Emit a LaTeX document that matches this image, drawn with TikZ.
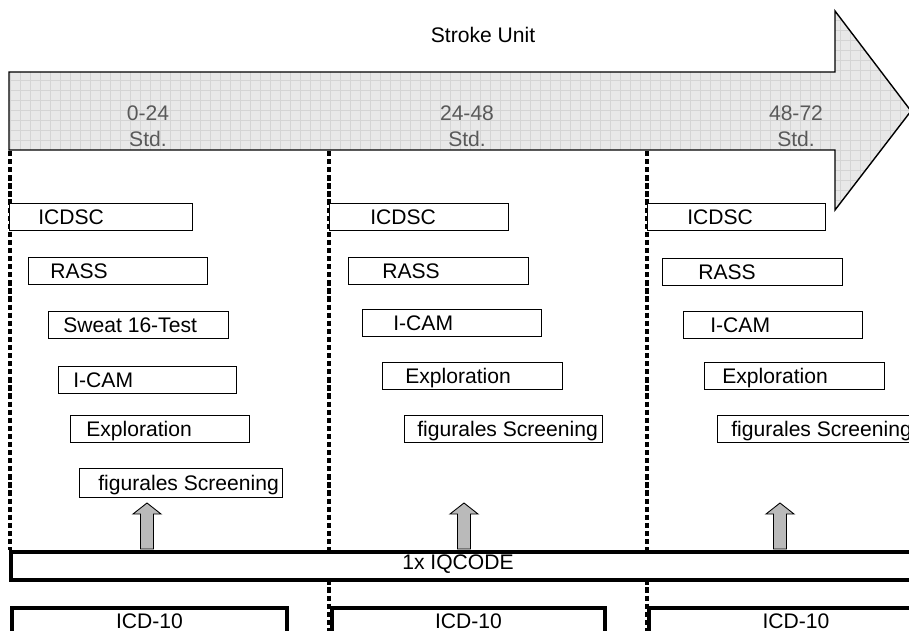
\documentclass[tikz,border=0pt]{standalone}
\usepackage{fontspec}
\setmainfont{Liberation Sans}
\usetikzlibrary{positioning}

\begin{document}
\begin{tikzpicture}[x=0.02cm, y=-0.02cm,
		font=\fontsize{12}{12.5}\selectfont,
		bigarrow/.style={
			draw,
			line width=0.8pt,
			fill=black!9,
			path picture={\draw[black!17, line width=0.3pt, step=0.2cm] (path picture bounding box.south west) grid (path picture bounding box.north east);}
		},
		divider/.style={line width=1.9pt, dash pattern=on 3pt off 1.6pt},
		testbox/.style={draw, fill=white, line width=0.7pt, minimum height=0.54cm, inner sep=0pt, anchor=north west},
		lbl/.style={anchor=west, inner sep=0pt, text height=8.6pt, text depth=0pt},
		period/.style={align=center, text=black!65, font=\fontsize{12}{14.8}\selectfont},
		uparrow/.style={draw, fill=black!27, line width=0.5pt},
		iqbox/.style={draw, fill=white, line width=2.3pt, minimum width=18.8cm, minimum height=0.56cm, inner sep=0pt, anchor=north west},
		icdbox/.style={draw, fill=white, line width=2.3pt, anchor=north west, inner xsep=0pt, inner ysep=0.11cm, text height=8.6pt, text depth=0.8cm}]
		\useasboundingbox (0,0) rectangle (909,631);
		\clip (0,0) rectangle (909,631);
		
		\draw[bigarrow] (9,72) -- (835,72) -- (835,11) -- (911,111) -- (835,210) -- (835,150) -- (9,150) -- cycle;
		\node (title) at (483,35) {Stroke Unit};
		\node[period] (p1) at (148,126) {0-24\\Std.};
		\node[period] (p2) at (467,126) {24-48\\Std.};
		\node[period] (p3) at (796,126) {48-72\\Std.};
		
		\coordinate (d1) at (10,151); \coordinate (e1) at (10,550);
		\coordinate (d2) at (329,151); \coordinate (e2) at (329,631);
		\coordinate (d3) at (647,151); \coordinate (e3) at (647,631);
		\draw[divider] (d1) -- (e1);
		\draw[divider] (d2) -- (e2);
		\draw[divider] (d3) -- (e3);
		
		% 0-24
		\node[testbox, minimum width=3.66cm] (a1) at (9,203) {};
		\node[testbox, minimum width=3.58cm] (a2) at (28,257) {};
		\node[testbox, minimum width=3.60cm] (a3) at (48,311) {};
		\node[testbox, minimum width=3.56cm] (a4) at (58,366) {};
		\node[testbox, minimum width=3.58cm] (a5) at (70,415) {};
		\node[testbox, minimum width=4.06cm, minimum height=0.58cm] (a6) at (79,468) {};
		\node[lbl] (ta1) at ([xshift=0.58cm]a1.west) {ICDSC};
		\node[lbl] (ta2) at ([xshift=0.44cm]a2.west) {RASS};
		\node[lbl] (ta3) at ([xshift=0.30cm]a3.west) {Sweat 16-Test};
		\node[lbl] (ta4) at ([xshift=0.30cm]a4.west) {I-CAM};
		\node[lbl] (ta5) at ([xshift=0.32cm]a5.west) {Exploration};
		\node[lbl] (ta6) at ([xshift=0.38cm]a6.west) {figurales Screening};
		
		% 24-48
		\node[testbox, minimum width=3.58cm] (b1) at (329,203) {};
		\node[testbox, minimum width=3.60cm] (b2) at (348,257) {};
		\node[testbox, minimum width=3.58cm] (b3) at (362,309) {};
		\node[testbox, minimum width=3.60cm] (b4) at (382,362) {};
		\node[testbox, minimum width=3.96cm] (b5) at (404,415) {};
		\node[lbl] (tb1) at ([xshift=0.82cm]b1.west) {ICDSC};
		\node[lbl] (tb2) at ([xshift=0.68cm]b2.west) {RASS};
		\node[lbl] (tb3) at ([xshift=0.62cm]b3.west) {I-CAM};
		\node[lbl] (tb4) at ([xshift=0.46cm]b4.west) {Exploration};
		\node[lbl] (tb5) at ([xshift=0.26cm]b5.west) {figurales Screening};
		
		% 48-72
		\node[testbox, minimum width=3.56cm] (c1) at (647,203) {};
		\node[testbox, minimum width=3.60cm] (c2) at (662,258) {};
		\node[testbox, minimum width=3.58cm] (c3) at (683,311) {};
		\node[testbox, minimum width=3.60cm] (c4) at (704,362) {};
		\node[testbox, minimum width=4.00cm] (c5) at (717,415) {};
		\node[lbl] (tc1) at ([xshift=0.80cm]c1.west) {ICDSC};
		\node[lbl] (tc2) at ([xshift=0.72cm]c2.west) {RASS};
		\node[lbl] (tc3) at ([xshift=0.54cm]c3.west) {I-CAM};
		\node[lbl] (tc4) at ([xshift=0.36cm]c4.west) {Exploration};
		\node[lbl] (tc5) at ([xshift=0.28cm]c5.west) {figurales Screening};
		
		% IQCODE arrows
		\coordinate (u1) at (147,549);
		\coordinate (u2) at (464,549);
		\coordinate (u3) at (780,549);
		\draw[uparrow] (u1)++(-6.5,0) --++(0,-35) --++(-7.5,0) --++(14,-11) --++(14,11) --++(-7.5,0) --++(0,35) -- cycle;
		\draw[uparrow] (u2)++(-6.5,0) --++(0,-35) --++(-7.5,0) --++(14,-11) --++(14,11) --++(-7.5,0) --++(0,35) -- cycle;
		\draw[uparrow] (u3)++(-6.5,0) --++(0,-35) --++(-7.5,0) --++(14,-11) --++(14,11) --++(-7.5,0) --++(0,35) -- cycle;
		
		\node[iqbox] (iq) at (9,550) {};
		\node (iqtxt) at (458,564) {1x IQCODE};
		
		\node[icdbox, minimum width=5.50cm] (icd1) at (10,606) {ICD-10};
		\node[icdbox, minimum width=5.46cm] (icd2) at (330,606) {ICD-10};
		\node[icdbox, minimum width=5.88cm] (icd3) at (647,606) {ICD-10};
	\end{tikzpicture}
\end{document}
